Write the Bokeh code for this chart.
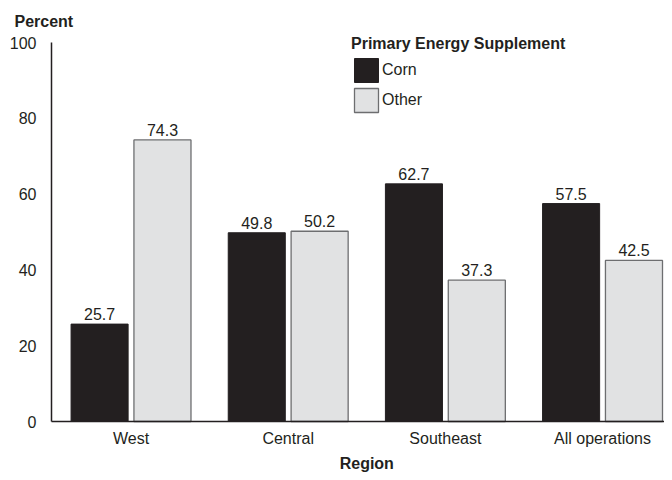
from bokeh.plotting import figure
from bokeh.models import (ColumnDataSource, FixedTicker, LabelSet, Label, Legend, LegendItem,
                          Range1d)
from bokeh.core.properties import value
from bokeh.transform import dodge
from bokeh.embed import file_html
from bokeh.resources import INLINE

regions = ["West", "Central", "Southeast", "All operations"]
corn = [25.7, 49.8, 62.7, 57.5]
other = [74.3, 50.2, 37.3, 42.5]
y_ticks = [0, 20, 40, 60, 80, 100]

DARK = "#231f20"
LIGHT = "#e1e2e3"
FONT = "Liberation Sans"

idx = list(range(len(regions)))
src = ColumnDataSource(dict(
    x=idx,
    corn=corn,
    other=other,
    corn_lbl=[f"{v:.1f}" for v in corn],
    other_lbl=[f"{v:.1f}" for v in other],
))

W, H = 664, 472
PX_X = 157.17          # pixels per category step
PX_Y = 3.79            # pixels per percent
AX_X = -0.506          # x data position of the y axis
X0 = AX_X - 51 / PX_X
X1 = AX_X + (W - 51) / PX_X
Y1 = 100 + 42 / PX_Y
Y0 = -(H - 421) / PX_Y

p = figure(width=W, height=H, output_backend="svg", toolbar_location=None,
           x_range=Range1d(X0, X1), y_range=Range1d(Y0, Y1),
           min_border_left=0, min_border_right=0, min_border_top=0, min_border_bottom=0)
p.outline_line_color = None
p.xgrid.grid_line_color = None
p.ygrid.grid_line_color = None
p.background_fill_color = "white"

r1 = p.vbar(x=dodge("x", -0.2), top="corn", bottom=0, width=0.363, source=src,
            fill_color=DARK, line_color=DARK, line_width=1)
r2 = p.vbar(x=dodge("x", 0.2), top="other", bottom=0, width=0.363, source=src,
            fill_color=LIGHT, line_color="#6d6e70", line_width=1.3)

for col, off in (("corn", -0.2), ("other", 0.2)):
    ls = LabelSet(x=dodge("x", off), y=col, text=col + "_lbl", source=src,
                  text_align="center", text_baseline="alphabetic", y_offset=4,
                  text_font=value(FONT), text_font_size="16px", text_color=DARK)
    p.add_layout(ls)

for ax in (p.xaxis[0], p.yaxis[0]):
    ax.major_tick_line_color = None
    ax.minor_tick_line_color = None
    ax.axis_line_color = DARK
    ax.axis_line_width = 1.5
    ax.major_label_text_font = FONT
    ax.major_label_text_font_size = "16px"
    ax.major_label_text_color = DARK

p.xaxis.ticker = FixedTicker(ticks=idx)
p.xaxis.major_label_overrides = {i: r for i, r in zip(idx, regions)}
p.xaxis.major_label_standoff = 2
p.xaxis.fixed_location = 0
p.xaxis.bounds = (AX_X, X1)

p.yaxis.ticker = FixedTicker(ticks=y_ticks)
p.yaxis.major_label_standoff = 9
p.yaxis.fixed_location = AX_X
p.yaxis.bounds = (0, 100)

p.add_layout(Label(x=AX_X - 37 / PX_X, y=100 + 21 / PX_Y, text="Percent", text_align="left",
                   text_baseline="alphabetic", text_font=FONT, text_font_size="16px",
                   text_font_style="bold", text_color=DARK))
p.add_layout(Label(x=1.5, y=-(471 - 421) / PX_Y, text="Region", text_align="center",
                   text_baseline="bottom", text_font=FONT, text_font_size="16px",
                   text_font_style="bold", text_color=DARK))

legend = Legend(items=[LegendItem(label="Corn", renderers=[r1]),
                       LegendItem(label="Other", renderers=[r2])],
                location=(351, H - 115), title="Primary Energy Supplement",
                title_text_font=FONT, title_text_font_style="bold",
                title_text_font_size="16px", title_text_color=DARK, title_standoff=2,
                label_text_font=FONT, label_text_font_size="16px", label_text_color=DARK,
                glyph_width=30, glyph_height=30, label_height=30, label_standoff=1,
                spacing=0, padding=0, margin=0, border_line_color=None,
                background_fill_alpha=0)
p.add_layout(legend, "center")

open("out.html", "w").write(file_html(p, INLINE))
